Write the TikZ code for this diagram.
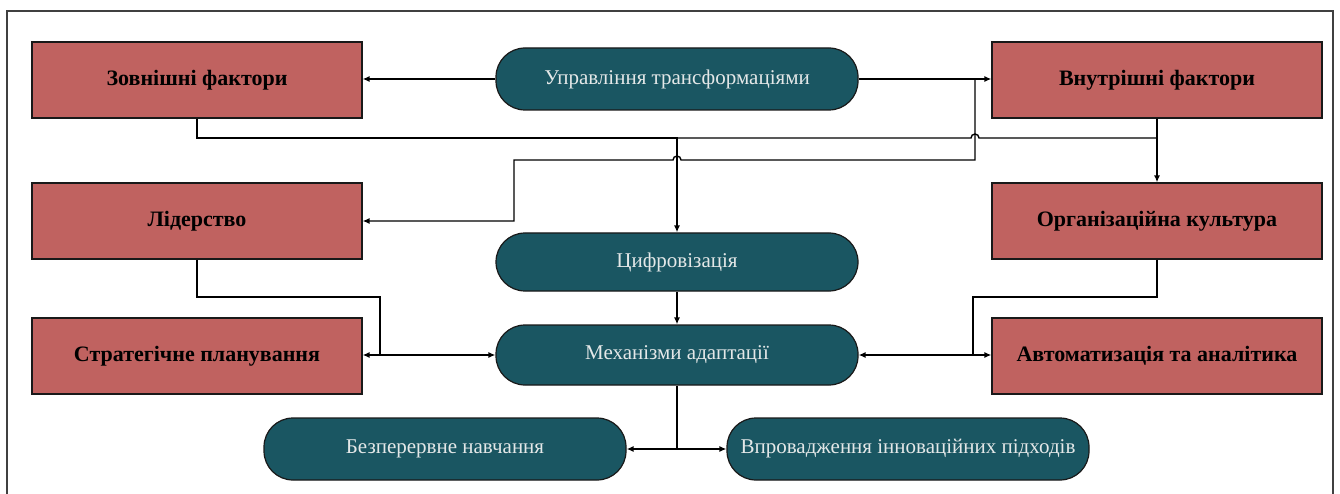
\documentclass[tikz,border=0pt]{standalone}
\usepackage{fontspec}
\setmainfont{Liberation Serif}
\usetikzlibrary{arrows.meta}
\definecolor{factorred}{RGB}{192,98,96}
\definecolor{processteal}{RGB}{26,86,98}
\definecolor{pilltext}{RGB}{228,232,232}
\tikzset{
  factor/.style={rectangle, draw=black!90, line width=1.2pt, fill=factorred,
    minimum width=330pt, minimum height=76pt, inner sep=0pt,
    font=\fontsize{22}{26}\selectfont\bfseries, text=black},
  process/.style={rectangle, rounded corners=29pt, draw=black!90, line width=1.2pt,
    fill=processteal, minimum width=362pt, minimum height=62pt, inner sep=0pt,
    font=\fontsize{21}{25}\selectfont, text=pilltext},
  conn/.style={draw=black, line width=1.4pt},
  arr/.style={conn, -{Latex[length=7pt,width=6pt]}},
}
\begin{document}
\begin{tikzpicture}[x=1pt,y=-1pt]
  \useasboundingbox (0,0) rectangle (1340,494);
  % outer frame
  \begin{scope}
    \clip (0,0) rectangle (1340,494);
    \draw[line width=2pt, draw=black!75] (7,11) rectangle (1333,520);
  \end{scope}

  % blocks
  \node[factor]  (zov) at (197,80)  {Зовнішні фактори};
  \node[process] (upr) at (677,79)  {Управління трансформаціями};
  \node[factor]  (vnu) at (1157,80) {Внутрішні фактори};
  \node[factor]  (lid) at (197,221) {Лідерство};
  \node[process, minimum height=58pt] (cyf) at (677,262) {Цифровізація};
  \node[factor]  (org) at (1157,221) {Організаційна культура};
  \node[factor]  (str) at (197,356) {Стратегічне планування};
  \node[process, minimum height=60pt] (mex) at (677,355) {Механізми адаптації};
  \node[factor]  (avt) at (1157,356) {Автоматизація та аналітика};
  \node[process] (bez) at (445,449) {Безперервне навчання};
  \node[process] (vpr) at (908,449) {Впровадження інноваційних підходів};

  % routing points
  \coordinate (busA) at (677,138);
  \coordinate (hopA) at (975,138);
  \coordinate (jA)   at (975,79);
  \coordinate (kA)   at (975,160);
  \coordinate (hopB) at (677,160);
  \coordinate (kB)   at (514,160);
  \coordinate (lA)   at (380,297);
  \coordinate (lB)   at (380,355);
  \coordinate (oA)   at (973,297);
  \coordinate (oB)   at (973,355);
  \coordinate (mA)   at (677,449);

  % top row
  \draw[arr] (upr.west) -- (upr.west -| zov.east);
  \draw[arr] (upr.east) -- (upr.east -| vnu.west);

  % factors feeding digitalisation
  \draw[arr] (zov.south) |- (busA) -- (cyf.north);
  \draw[conn] (vnu.south) |- ([xshift=4pt]hopA) arc (0:180:4pt) -- (busA);
  \draw[arr] (vnu.south) -- (org.north);

  % management to leadership
  \draw[arr] (jA) -- (kA) -- ([xshift=4pt]hopB) arc (0:180:4pt) -- (kB) |- (lid.east);

  % leadership to adaptation and planning
  \draw[arr] (lid.south) |- (lA) -- (lB) -- (mex.west);
  \draw[arr] (lB) -- (lB -| str.east);

  % culture to adaptation and automation
  \draw[arr] (org.south) |- (oA) -- (oB) -- (oB -| avt.west);
  \draw[arr] (oB) -- (mex.east);

  % central chain
  \draw[arr] (cyf.south) -- (mex.north);
  \draw[conn] (mex.south) -- (mA);
  \draw[arr] (mA) -- (bez.east);
  \draw[arr] (mA) -- (vpr.west);
\end{tikzpicture}
\end{document}
